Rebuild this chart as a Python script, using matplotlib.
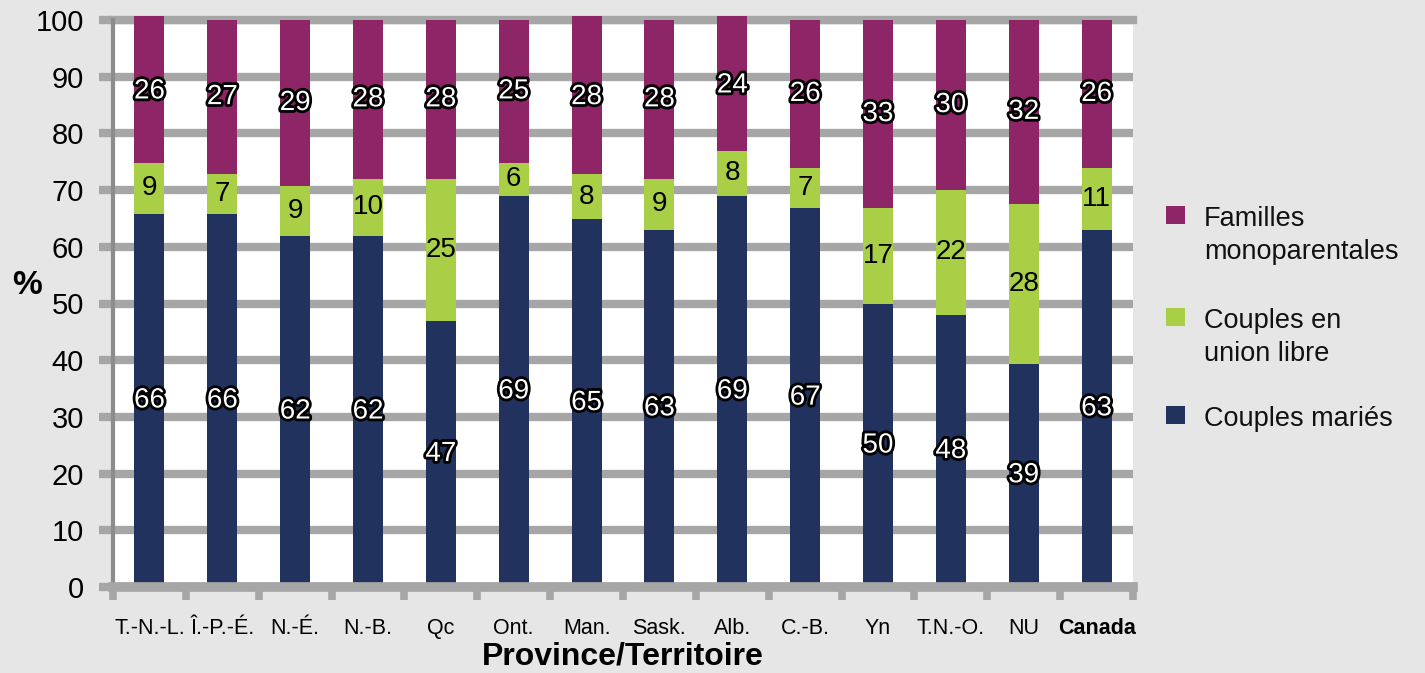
import matplotlib
matplotlib.use("Agg")
import matplotlib.pyplot as plt
import matplotlib.patheffects as pe
from matplotlib.patches import Rectangle

# ---- data ----
categories = ["T.-N.-L.", "Î.-P.-É.", "N.-É.", "N.-B.", "Qc", "Ont.", "Man.",
              "Sask.", "Alb.", "C.-B.", "Yn", "T.N.-O.", "NU", "Canada"]
maries = [65.8, 65.8, 61.9, 61.9, 46.9, 69.0, 64.9, 63.0, 69.0, 66.8, 49.9, 48.0, 39.4, 63.0]
union_libre = [9.0, 7.0, 8.8, 10.1, 25.1, 5.8, 7.9, 9.0, 7.9, 7.1, 16.9, 22.0, 28.2, 10.9]
monoparentales = [25.9, 27.2, 29.3, 28.0, 28.0, 25.2, 27.9, 28.0, 23.8, 26.1, 33.2, 30.0, 32.4, 26.1]
series_names = ["Familles\nmonoparentales", "Couples en\nunion libre", "Couples mariés"]
yticks = [0, 10, 20, 30, 40, 50, 60, 70, 80, 90, 100]

c_navy = "#21325E"
c_green = "#A8CF45"
c_mag = "#8E2566"
c_bg = "#E6E6E6"
c_grid = "#A6A6A6"

plt.rcParams['font.family'] = ['Liberation Sans', 'DejaVu Sans']

W, H = 1425, 673
fig = plt.figure(figsize=(W / 100, H / 100), dpi=100, facecolor=c_bg)
x0, x1, y0, y1 = 113, 1133, 587, 20
ax = fig.add_axes([x0 / W, 1 - y0 / H, (x1 - x0) / W, (y0 - y1) / H])
ax.set_facecolor("white")

x = list(range(len(categories)))
bw = 0.41
b1 = ax.bar(x, maries, bw, color=c_navy, clip_on=False, zorder=2)
bottom2 = maries
b2 = ax.bar(x, union_libre, bw, bottom=bottom2, color=c_green, clip_on=False, zorder=2)
bottom3 = [a + b for a, b in zip(maries, union_libre)]
b3 = ax.bar(x, monoparentales, bw, bottom=bottom3, color=c_mag, clip_on=False, zorder=2)

outline = [pe.withStroke(linewidth=4, foreground="black")]
for bars, vals, white in ((b1, maries, True), (b2, union_libre, False), (b3, monoparentales, True)):
    txts = ax.bar_label(bars, labels=[str(round(v)) for v in vals], label_type="center",
                        fontsize=20, color="white" if white else "black", zorder=5)
    if white:
        for t in txts:
            t.set_path_effects(outline)

ax.set_xlim(-0.5, len(categories) - 0.5)
ax.set_ylim(0, 100)
ax.set_yticks(yticks)
ax.set_yticklabels([str(v) for v in yticks], fontsize=21)
ax.yaxis.grid(True, color=c_grid, linewidth=6, zorder=0.5)
ax.set_axisbelow(True)
ax.axhline(100, color=c_grid, linewidth=6, clip_on=False, zorder=0.6)
ax.tick_params(axis="y", length=10, width=6, color=c_grid, pad=11)

ax.set_xticks(x)
ax.set_xticklabels(categories, fontsize=15.5)
ax.get_xticklabels()[-1].set_fontweight("bold")
ax.tick_params(axis="x", which="major", length=0, pad=22)
ax.set_xticks([i - 0.5 for i in range(len(categories) + 1)], minor=True)
ax.tick_params(axis="x", which="minor", length=9, width=5.5, color=c_grid)

for s in ("top", "right"):
    ax.spines[s].set_visible(False)
ax.spines["left"].set_color("#8C8C8C")
ax.spines["left"].set_linewidth(3)
ax.spines["bottom"].set_color(c_grid)
ax.spines["bottom"].set_linewidth(7)
ax.spines["bottom"].set_zorder(3)

ax.set_xlabel("Province/Territoire", fontsize=23, fontweight="bold")
ax.xaxis.set_label_coords(0.5, -0.097)
ax.set_ylabel("%", fontsize=24, fontweight="bold", rotation=0, ha="center", va="center")
ax.yaxis.set_label_coords((27 - x0) / (x1 - x0), (y0 - 285) / (y0 - y1))

# ---- legend ----
leg_colors = [c_mag, c_green, c_navy]
sq_tops = [206, 308, 406]
for name, col, top in zip(series_names, leg_colors, sq_tops):
    fig.patches.append(Rectangle((1166 / W, 1 - (top + 18) / H), 19 / W, 18 / H,
                                 transform=fig.transFigure, facecolor=col, edgecolor="none"))
    for k, line in enumerate(name.split("\n")):
        fig.text(1204 / W, 1 - (top + 20 + 33 * k) / H, line, fontsize=19.5,
                 ha="left", va="baseline", color="#111111")

fig.savefig("out.png", dpi=100, facecolor=c_bg)
